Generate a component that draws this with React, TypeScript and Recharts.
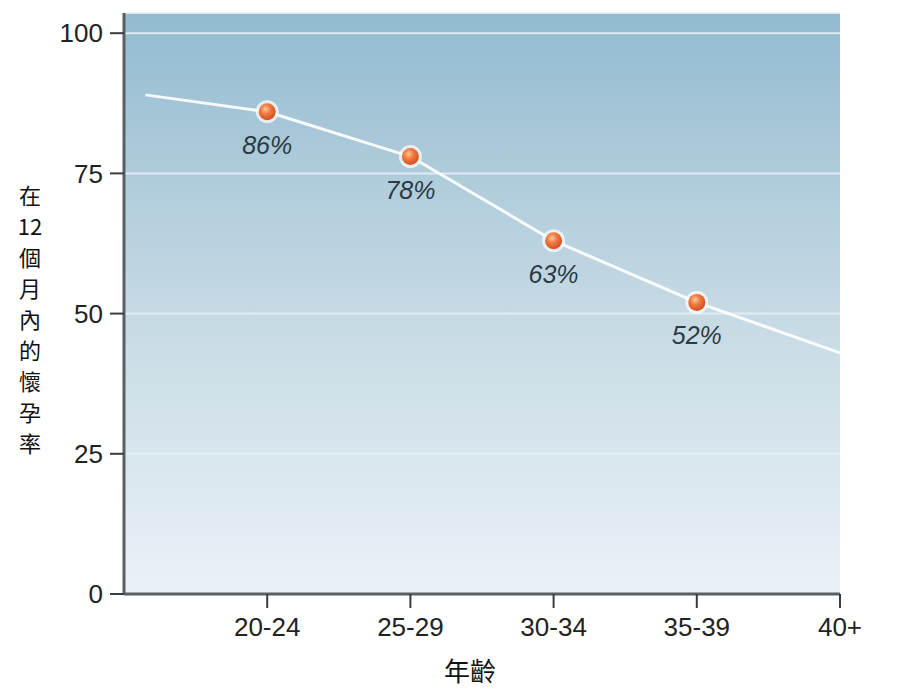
import { LineChart, Line, XAxis, YAxis, CartesianGrid } from "recharts";

// age groups shown on the x axis, at positions 1..5
const ageLabels = ["20-24", "25-29", "30-34", "35-39", "40+"];
const agePositions = [1, 2, 3, 4, 5];

// curve points: x position, pregnancy rate within 12 months (%)
const curveX = [0.15, 1, 2, 3, 4, 5];
const curveRate = [89, 86, 78, 63, 52, 43];
// which points get a marker + label
const markedX = [1, 2, 3, 4];

const yTicks = [0, 25, 50, 75, 100];
const yLabelChars = ["在", "12", "個", "月", "內", "的", "懷", "孕", "率"];
const xTitle = "年齡";

const data = curveX.map((x, i) => ({
  x,
  rate: curveRate[i],
  marked: markedX.includes(x),
}));

const FONT = "'Liberation Sans', Arial, sans-serif";
const CJK = "'Noto Sans CJK TC', 'Noto Sans CJK SC', sans-serif";

function MarkerDot(props: any) {
  const { cx, cy, payload } = props;
  if (!payload || !payload.marked) return null;
  return (
    <g>
      <circle cx={cx} cy={cy} r={11.5} fill="#ffffff" fillOpacity={0.7} />
      <circle cx={cx} cy={cy} r={8.5} fill="url(#dotGrad)" />
      <text
        x={cx}
        y={cy + 42}
        textAnchor="middle"
        fontStyle="italic"
        fontSize={25}
        fontFamily={FONT}
        fill="#2b3a44"
      >
        {`${payload.rate}%`}
      </text>
    </g>
  );
}

function YTitle() {
  return (
    <text x={30} y={204} textAnchor="middle" fontSize={22} fontFamily={CJK} fill="#111">
      {yLabelChars.map((c, i) => (
        <tspan key={i} x={30} dy={i === 0 ? 0 : 31}>
          {c}
        </tspan>
      ))}
    </text>
  );
}

function XTitle() {
  return (
    <text x={470} y={681} textAnchor="middle" fontSize={26} fontFamily={CJK} fill="#111">
      {xTitle}
    </text>
  );
}

export default function App() {
  return (
    <div style={{ position: "absolute", left: 0, top: 0, background: "#fff" }}>
      <LineChart width={920} height={690} data={data} margin={{ top: 13, right: 80, bottom: 0, left: 0 }}>
        <defs>
          <linearGradient id="bgGrad" x1="0" y1="0" x2="0" y2="1">
            <stop offset="0%" stopColor="#93bbd0" />
            <stop offset="52%" stopColor="#c6dae4" />
            <stop offset="100%" stopColor="#eaf2f7" />
          </linearGradient>
          <radialGradient id="dotGrad" cx="40%" cy="35%" r="65%">
            <stop offset="0%" stopColor="#ffc49a" />
            <stop offset="45%" stopColor="#f07a40" />
            <stop offset="100%" stopColor="#d4501f" />
          </radialGradient>
        </defs>
        <CartesianGrid
          vertical={false}
          fill="url(#bgGrad)"
          fillOpacity={1}
          stroke="#e4eff5"
          strokeWidth={2}
          strokeOpacity={0.9}
        />
        <XAxis
          dataKey="x"
          type="number"
          domain={[0, 5]}
          ticks={agePositions}
          tickFormatter={(v: number) => ageLabels[agePositions.indexOf(v)] ?? ""}
          height={96}
          tickSize={14}
          tickMargin={10}
          axisLine={{ stroke: "#5a5f63", strokeWidth: 3 }}
          tickLine={{ stroke: "#3a3d40", strokeWidth: 2 }}
          tick={{ fill: "#222", fontSize: 26, fontFamily: FONT }}
          label={{ content: <XTitle /> }}
        />
        <YAxis
          type="number"
          domain={[0, 103.6]}
          ticks={yTicks}
          allowDataOverflow
          width={124}
          tickSize={14}
          tickMargin={7}
          axisLine={{ stroke: "#5a5f63", strokeWidth: 3 }}
          tickLine={{ stroke: "#3a3d40", strokeWidth: 2 }}
          tick={{ fill: "#222", fontSize: 26, fontFamily: FONT }}
          label={{ content: <YTitle /> }}
        />
        <Line
          type="linear"
          dataKey="rate"
          stroke="#ffffff"
          strokeOpacity={0.9}
          strokeWidth={3}
          strokeLinejoin="round"
          dot={<MarkerDot />}
          activeDot={false}
          isAnimationActive={false}
        />
      </LineChart>
    </div>
  );
}
